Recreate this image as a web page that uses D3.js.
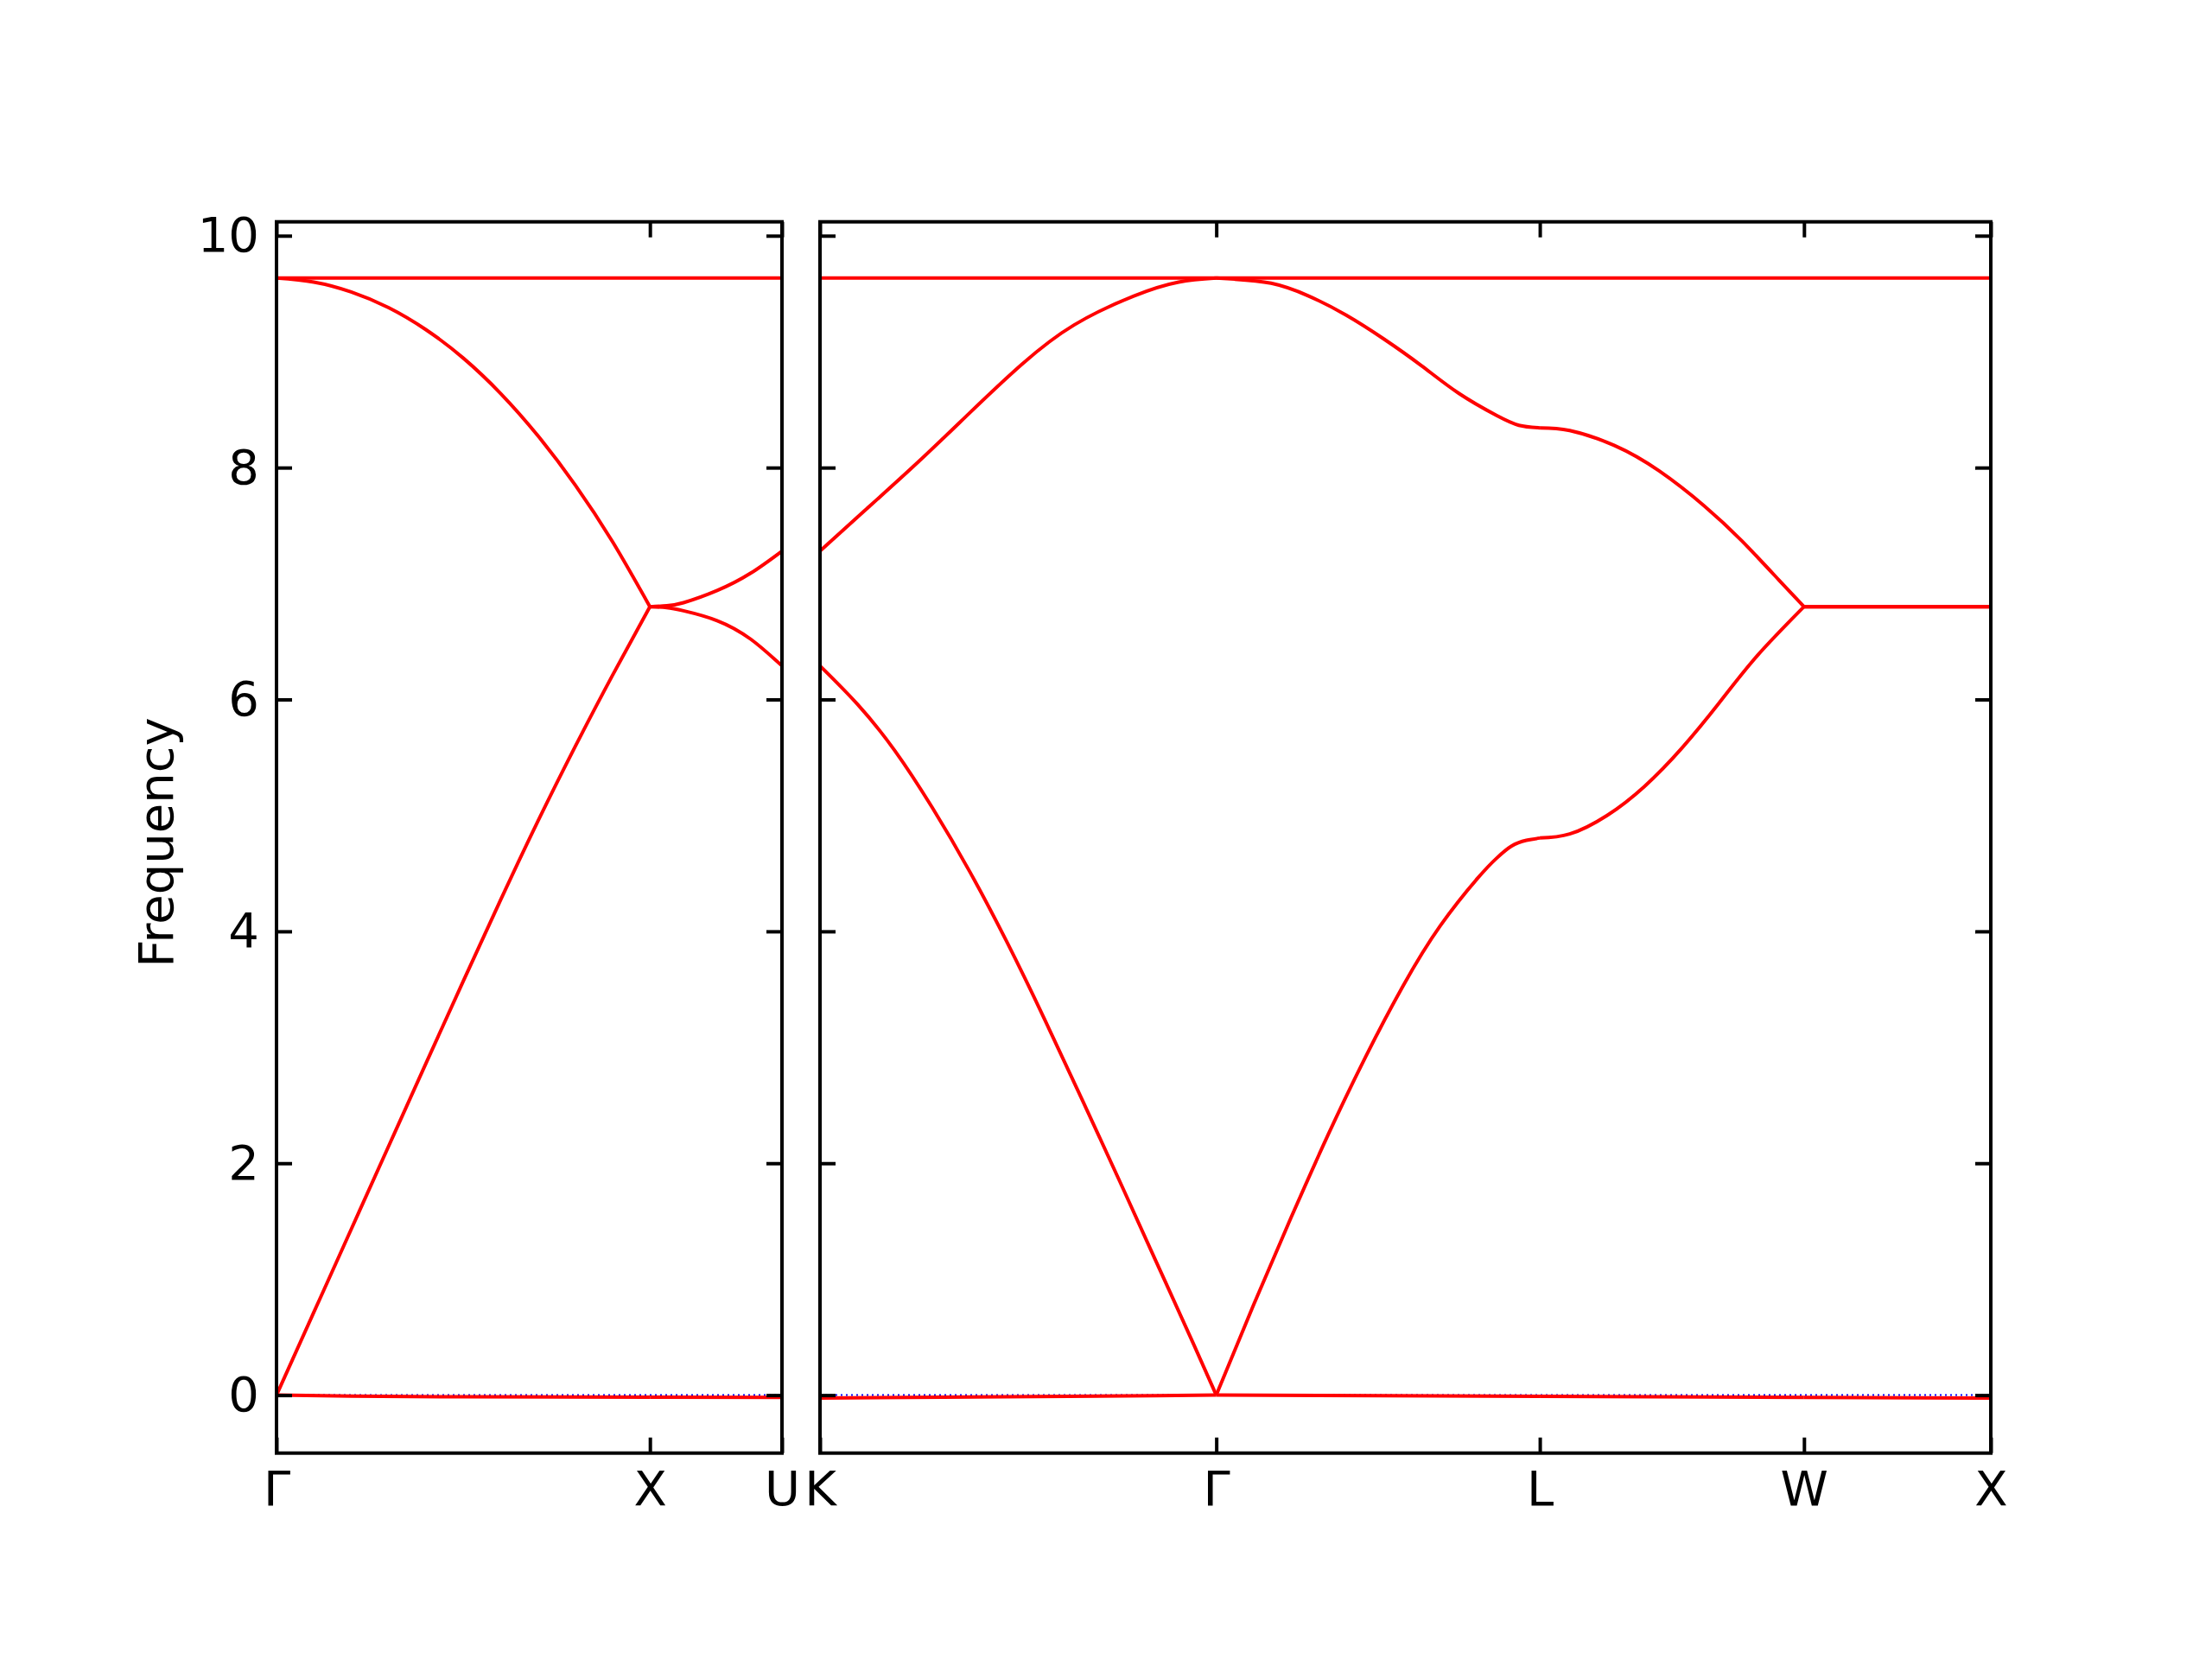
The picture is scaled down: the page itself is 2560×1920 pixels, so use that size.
<!DOCTYPE html>
<html>
<head>
<meta charset="utf-8">
<script src="https://cdn.jsdelivr.net/npm/d3@7"></script>
<style>
  body { margin: 0; background: #fff; }
  text { font-family: "DejaVu Sans", sans-serif; }
</style>
</head>
<body>
<script>
// high symmetry points, positions along the path
var leftNames = ["Γ", "X", "U"];
var leftPos = [0, 1.0, 1.3536];
var rightNames = ["K", "Γ", "L", "W", "X"];
var rightPos = [0, 1.0607, 1.9267, 2.6338, 3.1338];
var freqTicks = [0, 2, 4, 6, 8, 10];

// ---- left panel bands, [q, freq] ----
// Γ - X
var gx_b1 = [[0, 0], [0.2, -0.008], [0.5, -0.015], [1.0, -0.018]];
var gx_b2 = [[0, 0], [0.1, 0.715], [0.2, 1.43], [0.3, 2.145], [0.4, 2.86], [0.5, 3.57],
             [0.6, 4.27], [0.7, 4.95], [0.8, 5.595], [0.9, 6.21], [1.0, 6.80]];
var gx_b3 = [[0, 9.635], [0.1, 9.60], [0.2, 9.515], [0.3, 9.38], [0.4, 9.19], [0.5, 8.945],
             [0.6, 8.64], [0.7, 8.275], [0.8, 7.85], [0.9, 7.36], [1.0, 6.80]];
// X - U
var xu_b1 = [[1.0, -0.018], [1.3536, -0.02]];
var xu_b2 = [[1.0, 6.80], [1.045, 6.792], [1.09, 6.765], [1.18, 6.68], [1.27, 6.52], [1.3536, 6.29]];
var xu_b3 = [[1.0, 6.80], [1.045, 6.808], [1.09, 6.835], [1.18, 6.94], [1.27, 7.09], [1.3536, 7.28]];
// flat top band
var left_b4 = [[0, 9.635], [1.3536, 9.635]];

// ---- right panel bands ----
// K - Γ
var kg_b1 = [[0, -0.025], [0.5, -0.015], [0.9, -0.004], [1.0607, 0]];
var kg_b2 = [[0, 6.29], [0.1, 5.96], [0.2, 5.56], [0.3, 5.07], [0.4, 4.52], [0.5, 3.91],
             [0.6, 3.25], [0.7, 2.56], [0.8, 1.86], [0.9, 1.15], [1.0, 0.44], [1.0607, 0]];
var kg_b3 = [[0, 7.28], [0.12, 7.63], [0.26, 8.04], [0.40, 8.47], [0.54, 8.89],
             [0.68, 9.23], [0.84, 9.48], [0.96, 9.60], [1.0607, 9.635]];
// Γ - L
var gl_b1 = [[1.0607, 0], [1.5, -0.005], [1.9267, -0.01]];
var gl_b2 = [[1.0607, 0], [1.1607, 0.78], [1.2607, 1.53], [1.3607, 2.25], [1.4607, 2.92],
             [1.5607, 3.53], [1.6607, 4.05], [1.7607, 4.46], [1.8107, 4.63], [1.8507, 4.735],
             [1.8907, 4.785], [1.9267, 4.805]];
var gl_b3 = [[1.0607, 9.635], [1.11, 9.625], [1.2075, 9.59], [1.308, 9.48], [1.4085, 9.315],
             [1.509, 9.11], [1.6095, 8.88], [1.71, 8.64], [1.8107, 8.45], [1.8707, 8.365],
             [1.9267, 8.343]];
// L - W
var lw_b1 = [[1.9267, -0.01], [2.6338, -0.02]];
var lw_b2 = [[1.9267, 4.805], [2.0067, 4.84], [2.1067, 5.00], [2.2067, 5.25], [2.3067, 5.58],
             [2.4067, 5.97], [2.5067, 6.37], [2.6338, 6.80]];
var lw_b3 = [[1.9267, 8.343], [2.0067, 8.32], [2.1267, 8.19], [2.2467, 7.97], [2.3667, 7.67],
             [2.4667, 7.37], [2.5667, 7.03], [2.6338, 6.80]];
// W - X
var wx_b1 = [[2.6338, -0.02], [3.1338, -0.025]];
var wx_b2 = [[2.6338, 6.80], [3.1338, 6.80]];
var wx_b3 = [[2.6338, 6.80], [3.1338, 6.80]];
// flat top band
var right_b4 = [[0, 9.635], [3.1338, 9.635]];

var leftCurves = [gx_b1, gx_b2, gx_b3, xu_b1, xu_b2, xu_b3, left_b4];
var rightCurves = [kg_b1, kg_b2, kg_b3, gl_b1, gl_b2, gl_b3, lw_b1, lw_b2, lw_b3,
                   wx_b1, wx_b2, wx_b3, right_b4];

var w = 2560,
    h = 1920;
var plotTop = 256.7,
    plotBottom = 1681.7;

var svg = d3.select("body").append("svg")
  .attr("width", w)
  .attr("height", h);

svg.append("rect")
  .attr("width", w)
  .attr("height", h)
  .attr("fill", "#fff");

var y = d3.scaleLinear().domain([-0.5, 10.12]).range([plotBottom, plotTop]);

var panels = [
  { x: d3.scaleLinear().domain([0, 1.3536]).range([320, 905]), curves: leftCurves,
    pos: leftPos, names: leftNames, labels: true },
  { x: d3.scaleLinear().domain([0, 3.1338]).range([949, 2304]), curves: rightCurves,
    pos: rightPos, names: rightNames, labels: false }
];

panels.forEach(function(p) {
  var x = p.x;
  var x0 = x.range()[0], x1 = x.range()[1];
  var g = svg.append("g");

  // dotted zero line
  g.append("line")
    .attr("x1", x0).attr("x2", x1)
    .attr("y1", y(0)).attr("y2", y(0))
    .attr("stroke", "blue")
    .attr("stroke-width", 2)
    .attr("stroke-dasharray", "2,4");

  var line = d3.line()
    .x(function(d) { return x(d[0]); })
    .y(function(d) { return y(d[1]); })
    .curve(d3.curveNatural);

  g.selectAll("path.band")
    .data(p.curves)
    .enter()
    .append("path")
    .attr("class", "band")
    .attr("d", line)
    .attr("fill", "none")
    .attr("stroke", "#ff0000")
    .attr("stroke-width", 4)
    .attr("stroke-linejoin", "round");

  // axes, ticks point inward
  var left = g.append("g")
    .attr("transform", "translate(" + x0 + ",0)")
    .call(d3.axisLeft(y).tickValues(freqTicks).tickSize(-18).tickSizeOuter(0).tickPadding(20)
      .tickFormat(p.labels ? d3.format("d") : function() { return ""; }));
  var right = g.append("g")
    .attr("transform", "translate(" + x1 + ",0)")
    .call(d3.axisRight(y).tickValues(freqTicks).tickSize(-18).tickSizeOuter(0)
      .tickFormat(function() { return ""; }));
  var bot = g.append("g")
    .attr("transform", "translate(0," + plotBottom + ")")
    .call(d3.axisBottom(x).tickValues(p.pos).tickSize(-18).tickSizeOuter(0).tickPadding(21)
      .tickFormat(function(d, i) { return p.names[i]; }));
  var tp = g.append("g")
    .attr("transform", "translate(0," + plotTop + ")")
    .call(d3.axisTop(x).tickValues(p.pos).tickSize(-18).tickSizeOuter(0)
      .tickFormat(function() { return ""; }));

  [left, right, bot, tp].forEach(function(a) {
    a.select(".domain").remove();
    a.selectAll(".tick line").attr("stroke", "#000").attr("stroke-width", 4);
    a.selectAll(".tick text")
      .attr("fill", "#000")
      .attr("font-size", "56px")
      .attr("font-family", "DejaVu Sans");
  });

  // frame
  g.append("rect")
    .attr("x", x0)
    .attr("y", plotTop)
    .attr("width", x1 - x0)
    .attr("height", plotBottom - plotTop)
    .attr("fill", "none")
    .attr("stroke", "#000")
    .attr("stroke-width", 4);
});

// y label
svg.append("text")
  .attr("transform", "translate(200,975) rotate(-90)")
  .attr("text-anchor", "middle")
  .attr("font-size", "56px")
  .attr("fill", "#000")
  .text("Frequency");
</script>
</body>
</html>
